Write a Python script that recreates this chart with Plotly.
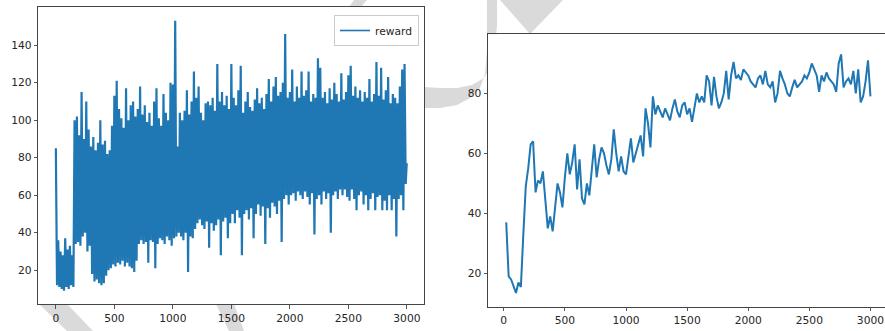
import plotly.graph_objects as go

# ---------------- data ----------------
# left panel: raw reward per episode (sampled every 10 episodes)
episodes_raw = list(range(0, 3000, 10)) + [2999]
reward_raw = [
    85, 12, 36, 11, 30, 10, 28, 9, 37, 11,
    31, 10, 33, 12, 28, 11, 100, 34, 102, 35,
    92, 33, 115, 38, 90, 40, 110, 30, 95, 33,
    86, 18, 91, 14, 84, 15, 88, 13, 100, 12,
    87, 13, 89, 17, 82, 20, 84, 21, 97, 23,
    113, 22, 121, 24, 106, 23, 101, 25, 96, 22,
    117, 24, 100, 22, 108, 21, 110, 19, 102, 25,
    106, 34, 118, 36, 103, 34, 108, 35, 99, 24,
    104, 36, 97, 35, 110, 21, 117, 34, 101, 37,
    97, 36, 114, 34, 104, 38, 100, 36, 120, 33,
    119, 37, 153, 38, 86, 40, 104, 38, 100, 36,
    105, 40, 116, 19, 103, 38, 110, 37, 126, 42,
    112, 45, 118, 47, 104, 44, 100, 42, 109, 46,
    110, 32, 108, 45, 112, 41, 105, 44, 130, 47,
    110, 28, 115, 46, 108, 48, 113, 37, 106, 45,
    130, 50, 112, 45, 108, 52, 116, 48, 129, 28,
    104, 50, 110, 52, 115, 47, 107, 53, 105, 37,
    111, 50, 117, 55, 109, 49, 112, 54, 106, 34,
    114, 53, 122, 48, 110, 56, 118, 54, 123, 50,
    113, 57, 115, 35, 120, 58, 146, 60, 112, 55,
    115, 60, 127, 61, 110, 57, 118, 62, 112, 60,
    126, 58, 113, 62, 116, 59, 126, 55, 110, 61,
    114, 39, 112, 58, 133, 60, 128, 55, 112, 62,
    115, 58, 109, 61, 117, 40, 111, 60, 120, 62,
    114, 58, 110, 63, 125, 60, 111, 63, 115, 59,
    124, 57, 129, 63, 113, 58, 118, 52, 112, 60,
    116, 62, 110, 55, 115, 60, 112, 52, 122, 58,
    110, 61, 114, 52, 131, 59, 113, 60, 128, 52,
    111, 57, 116, 52, 123, 60, 109, 52, 114, 58,
    112, 38, 109, 58, 118, 60, 127, 52, 130, 66,
    77,
]

# right panel: smoothed reward (moving average)
episodes_avg = list(range(20, 3001, 20))
reward_avg = [
    37, 19, 18, 16, 13.5, 17, 15.5, 33, 49, 55,
    63, 64, 47, 51, 50, 54, 45, 35, 39, 34,
    42, 50, 47, 42, 52, 60, 53, 57, 63, 48,
    58, 45, 43, 50, 46, 56, 63, 52, 58, 62,
    60, 56, 53, 58, 68, 60, 54, 59, 54, 53,
    60, 65, 57, 60, 63, 66, 59, 75, 70, 62,
    79, 73, 76, 74, 72, 75, 73, 71, 75, 78,
    74, 72, 76, 77, 73, 75, 70.5, 76, 80, 77,
    79, 77, 86, 84, 76, 85.5, 79, 75, 77, 80,
    87.5, 78, 86, 90.5, 85, 86, 84.5, 88, 87, 86,
    84, 83, 82, 85, 86, 83, 87.5, 83, 82, 84,
    77, 80, 87.5, 85, 83, 80, 79, 82, 84.5, 82,
    83, 84, 86, 85, 87, 90, 88, 86, 80.5, 86,
    84, 87, 85, 84, 83, 80.5, 90, 93, 82, 84,
    85, 83, 87.5, 80, 88, 77, 79, 84, 91, 79,
]

x_ticks = [0, 500, 1000, 1500, 2000, 2500, 3000]
y_ticks_left = [20, 40, 60, 80, 100, 120, 140]
y_ticks_right = [20, 40, 60, 80]
legend_label = "reward"

# ---------------- figure ----------------
W, H = 885, 331
BLUE = "#1f77b4"
FONT = dict(family="DejaVu Sans", size=10.7, color="#262626")


def px(xp, yp):
    return xp / W, 1 - yp / H


def poly(points):
    pts = [px(a, b) for a, b in points]
    return "M " + " L ".join(f"{a:.5f},{b:.5f}" for a, b in pts) + " Z"


fig = go.Figure()
fig.add_trace(go.Scatter(
    x=episodes_raw, y=reward_raw, mode="lines", name=legend_label,
    line=dict(color=BLUE, width=2.2), xaxis="x", yaxis="y",
    showlegend=False, legendgroup="r",
))
# legend entry only (thin line sample like the original legend)
fig.add_trace(go.Scatter(
    x=[None], y=[None], mode="lines", name=legend_label,
    line=dict(color=BLUE, width=1.6), xaxis="x", yaxis="y",
    showlegend=True, legendgroup="r",
))
fig.add_trace(go.Scatter(
    x=episodes_avg, y=reward_avg, mode="lines", name="avg",
    line=dict(color=BLUE, width=2), xaxis="x2", yaxis="y2", showlegend=False,
))

axis_common = dict(
    showgrid=False, zeroline=False, showline=True, linecolor="#444444",
    linewidth=1, ticks="outside", ticklen=3.5, tickwidth=0.9,
    tickcolor="#444444", tickfont=FONT,
)

fig.update_layout(
    width=W, height=H,
    margin=dict(l=0, r=0, t=0, b=0),
    paper_bgcolor="white", plot_bgcolor="rgba(0,0,0,0)",
    xaxis=dict(domain=[38.3 / W, 424.3 / W], range=[-150, 3149],
               tickvals=x_ticks, anchor="y", mirror=True, **axis_common),
    yaxis=dict(domain=[1 - 304.3 / H, 1 - 7.3 / H], range=[1.8, 160.2],
               tickvals=y_ticks_left, anchor="x", mirror=True, **axis_common),
    xaxis2=dict(domain=[488 / W, 1.0], range=[-129, 3119],
                tickvals=x_ticks, anchor="y2", mirror=True, **axis_common),
    yaxis2=dict(domain=[1 - 306.7 / H, 1 - 34.3 / H], range=[8.9, 99.7],
                tickvals=y_ticks_right, anchor="x2", mirror=False, **axis_common),
    legend=dict(x=419 / W, y=1 - 15 / H, xanchor="right", yanchor="top",
                bgcolor="rgba(255,255,255,0.85)", bordercolor="#cccccc",
                borderwidth=1, font=FONT, itemwidth=30,
                tracegroupgap=0),
    showlegend=True,
)

# faint background watermark (visible only outside the plot areas)
WM = "#dadada"
wm_shapes = [
    [(39, 304), (67, 304), (93, 331), (67, 331)],
    [(216, 304), (234, 304), (244, 331), (229, 331)],
    [(349, 7), (361, 7), (367, 0), (354, 0)],
    [(424, 108), (440, 108), (457, 105), (470, 98), (480, 88), (485, 74),
     (487, 50), (487, 25), (487, 0), (497, 0), (497, 25), (495, 50),
     (491, 66), (484, 78), (472, 85), (457, 88), (440, 88), (424, 87)],
    [(500, 0), (563, 0), (530, 34)],
]
for pts in wm_shapes:
    fig.add_shape(type="path", path=poly(pts), xref="paper", yref="paper",
                  fillcolor=WM, line=dict(width=0), layer="below")
# white axes backgrounds on top of the watermark
for xr, yr in (("x domain", "y domain"), ("x2 domain", "y2 domain")):
    fig.add_shape(type="rect", xref=xr, yref=yr, x0=0, x1=1, y0=0, y1=1,
                  fillcolor="white", line=dict(width=0), layer="below")

fig.write_html("out.html",
               config={"displayModeBar": False, "staticPlot": True},
               post_script="document.body.style.margin='0px';"
                           "document.body.style.overflow='hidden';")
